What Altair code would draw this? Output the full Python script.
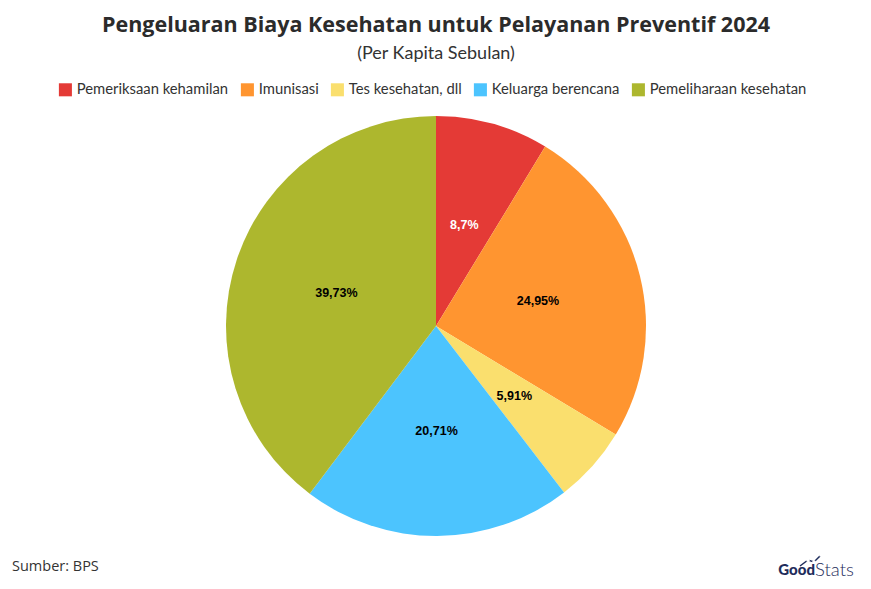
import altair as alt
import pandas as pd

judul = "Pengeluaran Biaya Kesehatan untuk Pelayanan Preventif 2024"
subjudul = "(Per Kapita Sebulan)"
sumber = "Sumber: BPS"

categories = ["Pemeriksaan kehamilan", "Imunisasi", "Tes kesehatan, dll",
              "Keluarga berencana", "Pemeliharaan kesehatan"]
values = [8.7, 24.95, 5.91, 20.71, 39.73]
labels = ["8,7%", "24,95%", "5,91%", "20,71%", "39,73%"]
colors = ["#E43A36", "#FF9530", "#FADF6E", "#4CC4FE", "#ADB72E"]
label_colors = ["#FFFFFF", "#000000", "#000000", "#000000", "#000000"]

# small decorative logo icon (GoodStats)
logo_x = [792, 800, 806, 813]
logo_y = [558, 552, 554, 547]

df = pd.DataFrame({
    "kategori": categories,
    "nilai": values,
    "label": labels,
    "urut": list(range(len(categories))),
    "warna_label": label_colors,
})

W, H = 855, 573
cx, cy = 428, 318

base = alt.Chart(df).encode(
    theta=alt.Theta("nilai:Q", stack=True),
    order=alt.Order("urut:Q"),
)

pie = base.mark_arc(radius=210).encode(
    x=alt.value(cx), y=alt.value(cy),
    color=alt.Color(
        "kategori:N",
        scale=alt.Scale(domain=categories, range=colors),
        sort=categories,
        legend=alt.Legend(
            orient="none", legendX=50, legendY=74, direction="horizontal",
            columns=5, title=None, symbolType="square", symbolSize=170,
            symbolStrokeWidth=0, labelFontSize=14.8, labelFont="Lato",
            labelColor="#333333", columnPadding=11, labelOffset=4,
        ),
    ),
)

text = base.mark_text(radius=105, fontSize=12.5, fontWeight="bold",
                      font="Liberation Sans").encode(
    x=alt.value(cx), y=alt.value(cy),
    text="label:N",
    color=alt.Color("warna_label:N", scale=None),
)

def label(s, x, y, **kw):
    return alt.Chart(pd.DataFrame({"t": [s]})).mark_text(**kw).encode(
        text="t:N", x=alt.value(x), y=alt.value(y))

t1 = label(judul, 428, 24, fontSize=21.5, fontWeight="bold", font="Open Sans",
           color="#2b2b2b", align="center", baseline="alphabetic")
t2 = label(subjudul, 428, 51, fontSize=18, font="Lato", fontWeight="normal",
           color="#333333", align="center", baseline="alphabetic")
t3 = label(sumber, 4, 559, fontSize=14.5, font="Open Sans", color="#333333",
           align="left", baseline="middle")
g1 = label("Good", 807, 562, fontSize=15, font="Lato", fontWeight=900,
           color="#1F2D5C", align="right", baseline="middle")
g2 = label("Stats", 807, 562, fontSize=18.5, font="Lato", fontWeight=300,
           color="#1F2D5C", align="left", baseline="middle")

logo_df = pd.DataFrame({"lx": logo_x, "ly": logo_y})
logo_line = alt.Chart(logo_df).mark_line(color="#1F2D5C", strokeWidth=1.5).encode(
    x=alt.X("lx:Q", scale=None), y=alt.Y("ly:Q", scale=None))
logo_pts = alt.Chart(logo_df.iloc[1:]).mark_point(
    color="#1F2D5C", filled=True, fill="white", strokeWidth=1.3, size=14, opacity=1
).encode(x=alt.X("lx:Q", scale=None), y=alt.Y("ly:Q", scale=None))

chart = alt.layer(pie, text, t1, t2, t3, logo_line, logo_pts, g1, g2).properties(
    width=W, height=H, padding=0,
    autosize=alt.AutoSizeParams(type="none"),
).configure_view(stroke=None)

chart.save("out.html", embed_options={"renderer": "svg", "actions": False})
